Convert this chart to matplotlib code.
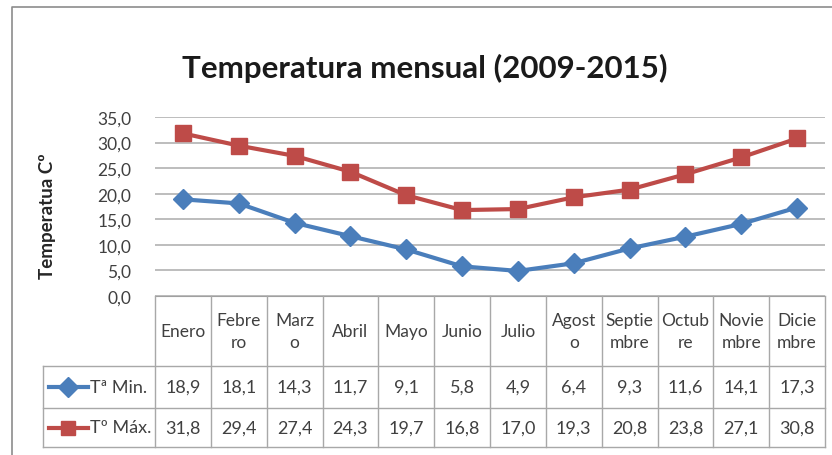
import matplotlib
matplotlib.use("Agg")
import matplotlib.pyplot as plt
from matplotlib import font_manager

names = {f.name for f in font_manager.fontManager.ttflist}
main_font = "Lato" if "Lato" in names else "DejaVu Sans"
plt.rcParams['font.family'] = [main_font, 'DejaVu Sans']

meses = ["Enero", "Febre\nro", "Marz\no", "Abril", "Mayo", "Junio", "Julio",
         "Agost\no", "Septie\nmbre", "Octub\nre", "Novie\nmbre", "Dicie\nmbre"]
t_min = [18.9, 18.1, 14.3, 11.7, 9.1, 5.8, 4.9, 6.4, 9.3, 11.6, 14.1, 17.3]
t_max = [31.8, 29.4, 27.4, 24.3, 19.7, 16.8, 17.0, 19.3, 20.8, 23.8, 27.1, 30.8]
series = [("Tª Min.", t_min, "#4A7EBB", "D"), ("Tº Máx.", t_max, "#BE4B48", "s")]

W, H = 832, 456
fig = plt.figure(figsize=(W / 100, H / 100), dpi=100)

def box(x0, y0, x1, y1):
    # pixel coords (top-left origin) -> figure fraction
    return [x0 / W, 1 - y1 / H, (x1 - x0) / W, (y1 - y0) / H]

# outer chart border
border = fig.add_axes([0, 0, 1, 1])
border.set_xlim(0, W)
border.set_ylim(H, 0)
border.axis("off")
border.plot([12, 12, W + 5], [H + 5, 8, 8], color="#8c8c8c", lw=1.2)

xs = list(range(len(meses)))
ax = fig.add_axes(box(155, 118, 825, 297))
for name, vals, col, mk in series:
    ax.plot(xs, vals, color=col, lw=3, marker=mk, ms=11 if mk == "s" else 10,
            markerfacecolor=col, markeredgecolor=col, zorder=3)
ax.set_xlim(-0.5, len(meses) - 0.5)
ax.set_ylim(0, 35)
ax.set_yticks(range(0, 36, 5))
ax.set_yticklabels([f"{v:.1f}".replace(".", ",") for v in range(0, 36, 5)], fontsize=12.5, color="#404040")
ax.tick_params(axis="y", length=0, pad=17)
ax.set_xticks([])
ax.grid(axis="y", color="#b8b8b8", lw=1.3)
ax.set_axisbelow(True)
for s in ["top", "right", "left"]:
    ax.spines[s].set_visible(False)
ax.spines["bottom"].set_color("#a0a0a0")
ax.set_ylabel("Temperatua Cº", fontsize=13.5, fontweight="bold", color="#262626")
ax.yaxis.set_label_coords(-0.148, 0.45)

fig.text(425 / W, 1 - 68 / H, "Temperatura mensual (2009-2015)", ha="center", va="center",
         fontsize=22.5, fontweight="bold", color="#1a1a1a")

# data table below the plot, sharing the category positions
tb = fig.add_axes(box(155, 297, 825, 448))
tb.set_xlim(-0.5, len(meses) - 0.5)
tb.set_ylim(151, 0)
tb.axis("off")
lc = "#a8a8a8"
rows = [0, 70, 112, 151]
left = -2.5
for i in range(len(meses) + 1):
    tb.plot([i - 0.5, i - 0.5], [0, 151], color=lc, lw=1, clip_on=False)
tb.plot([left, left], [70, 151], color=lc, lw=1, clip_on=False)
for r in rows[1:]:
    tb.plot([left, len(meses) - 0.5], [r, r], color=lc, lw=1, clip_on=False)

for i, m in enumerate(meses):
    tb.text(i, 35, m, ha="center", va="center", fontsize=12.5, color="#404040", linespacing=1.45)

for k, (name, vals, col, mk) in enumerate(series):
    yc = (rows[k + 1] + rows[k + 2]) / 2
    for i, v in enumerate(vals):
        tb.text(i, yc, f"{v:.1f}".replace(".", ","), ha="center", va="center",
                fontsize=13, color="#404040")
    tb.plot([left + 0.1, left + 0.8], [yc, yc], color=col, lw=3, clip_on=False)
    tb.plot([left + 0.45], [yc], marker=mk, ms=10, color=col, clip_on=False)
    tb.text(left + 0.83, yc, name, ha="left", va="center", fontsize=13, color="#404040")

fig.savefig("out.png", dpi=100)
